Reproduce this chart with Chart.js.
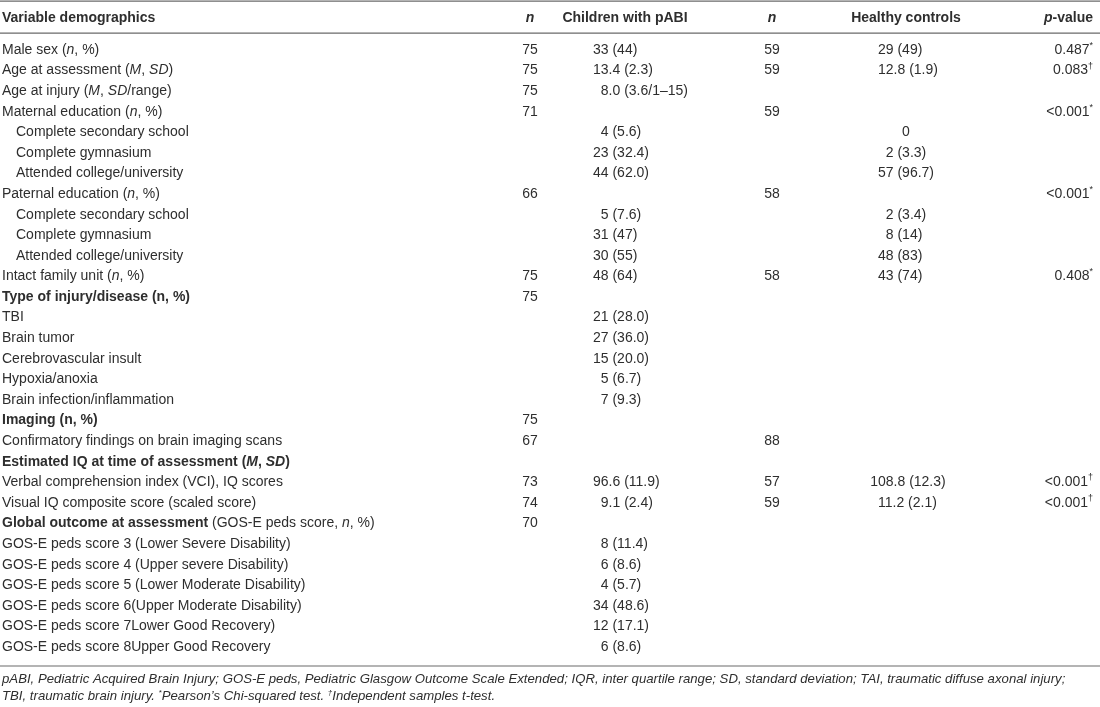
<!DOCTYPE html>
<html>
<head>
<meta charset="utf-8">
<script src="https://cdn.jsdelivr.net/npm/chart.js@4.4.1/dist/chart.umd.min.js"></script>
<style>
  html, body { margin: 0; padding: 0; background: #ffffff; }
  #wrap { width: 1100px; height: 707px; position: relative; }
</style>
</head>
<body>
<div id="wrap"><canvas id="c"></canvas></div>
<script>
// ---- DATA (markup: ~ toggles bold, _ toggles italic, ^ toggles superscript) ----
const headers = ['~Variable demographics~', '~_n_~', '~Children with pABI~', '~_n_~', '~Healthy controls~', '~_p_-value~'];

const rowLabels = [
  'Male sex (_n_, %)',
  'Age at assessment (_M_, _SD_)',
  'Age at injury (_M_, _SD_/range)',
  'Maternal education (_n_, %)',
  'Complete secondary school',
  'Complete gymnasium',
  'Attended college/university',
  'Paternal education (_n_, %)',
  'Complete secondary school',
  'Complete gymnasium',
  'Attended college/university',
  'Intact family unit (_n_, %)',
  '~Type of injury/disease (n, %)~',
  'TBI',
  'Brain tumor',
  'Cerebrovascular insult',
  'Hypoxia/anoxia',
  'Brain infection/inflammation',
  '~Imaging (n, %)~',
  'Confirmatory findings on brain imaging scans',
  '~Estimated IQ at time of assessment (_M_, _SD_)~',
  'Verbal comprehension index (VCI), IQ scores',
  'Visual IQ composite score (scaled score)',
  '~Global outcome at assessment~ (GOS-E peds score, _n_, %)',
  'GOS-E peds score 3 (Lower Severe Disability)',
  'GOS-E peds score 4 (Upper severe Disability)',
  'GOS-E peds score 5 (Lower Moderate Disability)',
  'GOS-E peds score 6(Upper Moderate Disability)',
  'GOS-E peds score 7Lower Good Recovery)',
  'GOS-E peds score 8Upper Good Recovery'
];

const rowIndented = [0,0,0,0,1,1,1,0,1,1,1,0,0,0,0,0,0,0,0,0,0,0,0,0,0,0,0,0,0,0];

const nPabi = ['75','75','75','71','','','','66','','','','75','75','','','','','','75','67','','73','74','70','','','','','',''];

const pabiValues = ['33 (44)','13.4 (2.3)','8.0 (3.6/1–15)','','4 (5.6)','23 (32.4)','44 (62.0)','','5 (7.6)','31 (47)','30 (55)','48 (64)','','21 (28.0)','27 (36.0)','15 (20.0)','5 (6.7)','7 (9.3)','','','','96.6 (11.9)','9.1 (2.4)','','8 (11.4)','6 (8.6)','4 (5.7)','34 (48.6)','12 (17.1)','6 (8.6)'];

const nControls = ['59','59','','59','','','','58','','','','58','','','','','','','','88','','57','59','','','','','','',''];

const controlValues = ['29 (49)','12.8 (1.9)','','','0','2 (3.3)','57 (96.7)','','2 (3.4)','8 (14)','48 (83)','43 (74)','','','','','','','','','','108.8 (12.3)','11.2 (2.1)','','','','','','',''];

const pValues = ['0.487^*^','0.083^†^','','<0.001^*^','','','','<0.001^*^','','','','0.408^*^','','','','','','','','','','<0.001^†^','<0.001^†^','','','','','','',''];

const footnotes = [
  '_pABI, Pediatric Acquired Brain Injury; GOS-E peds, Pediatric Glasgow Outcome Scale Extended; IQR, inter quartile range; SD, standard deviation; TAI, traumatic diffuse axonal injury;_',
  '_TBI, traumatic brain injury. ^*^Pearson\u2019s Chi-squared test. ^†^Independent samples t-test._'
];

// ---- LAYOUT / STYLE ----
const FONT = '"Liberation Sans", Arial, Helvetica, sans-serif';
const TEXT_COLOR = '#2e2e2e';
const RULE_COLOR = '#6a6a6a';
const BODY_SIZE = 14;
const NOTE_SIZE = 13.2;
const cols = { label: 2, indent: 16, n1: 530, pabiAnchor: 593, pabiCenter: 625, n2: 772, ctrlAnchor: 878, ctrlCenter: 906, pRight: 1093 };

function parseMarkup(str) {
  const segs = [];
  let bold = false, ital = false, sup = false, buf = '';
  const push = () => { if (buf) segs.push({ t: buf, b: bold, i: ital, s: sup }); buf = ''; };
  for (const ch of str) {
    if (ch === '~') { push(); bold = !bold; }
    else if (ch === '_') { push(); ital = !ital; }
    else if (ch === '^') { push(); sup = !sup; }
    else buf += ch;
  }
  push();
  return segs;
}

function segFont(seg, size) {
  const sz = seg.s ? Math.round(size * 0.64) : size;
  return (seg.i ? 'italic ' : '') + (seg.b ? 'bold ' : '') + sz + 'px ' + FONT;
}

function measureRich(ctx, str, size) {
  let w = 0;
  for (const seg of parseMarkup(str)) { ctx.font = segFont(seg, size); w += ctx.measureText(seg.t).width; }
  return w;
}

function drawRich(ctx, str, x, y, size, align) {
  const segs = parseMarkup(str);
  const total = measureRich(ctx, str, size);
  let cx = align === 'center' ? x - total / 2 : align === 'right' ? x - total : x;
  ctx.textAlign = 'left';
  ctx.textBaseline = 'middle';
  for (const seg of segs) {
    ctx.font = segFont(seg, size);
    ctx.fillText(seg.t, cx, seg.s ? y - size * 0.32 : y);
    cx += ctx.measureText(seg.t).width;
  }
}

// value cells: left edge set so that the integer part lines up as for two digits
function drawValue(ctx, str, xScale, y, anchor, center) {
  if (!str) return;
  if (str.indexOf('(') < 0) { drawRich(ctx, str, xScale.getPixelForValue(center), y, BODY_SIZE, 'center'); return; }
  ctx.font = BODY_SIZE + 'px ' + FONT;
  const digitW = ctx.measureText('0').width;
  const m = str.match(/^\d+/);
  const nd = m ? m[0].length : 2;
  drawRich(ctx, str, xScale.getPixelForValue(anchor) + (2 - nd) * digitW, y, BODY_SIZE, 'left');
}

const tablePlugin = {
  id: 'tableText',
  afterDraw(chart) {
    const ctx = chart.ctx, ys = chart.scales.y, xs = chart.scales.x, area = chart.chartArea;
    ctx.save();
    ctx.fillStyle = TEXT_COLOR;

    // rules
    ctx.strokeStyle = RULE_COLOR;
    ctx.lineWidth = 1.2;
    const rule = (yy) => { ctx.beginPath(); ctx.moveTo(xs.getPixelForValue(0), yy); ctx.lineTo(xs.getPixelForValue(1100), yy); ctx.stroke(); };
    rule(area.top - 38.5);
    rule(area.top - 6.5);
    rule(area.bottom + 8.7);

    // header
    const hy = area.top - 22;
    drawRich(ctx, headers[0], xs.getPixelForValue(cols.label), hy, BODY_SIZE, 'left');
    drawRich(ctx, headers[1], xs.getPixelForValue(cols.n1), hy, BODY_SIZE, 'center');
    drawRich(ctx, headers[2], xs.getPixelForValue(cols.pabiCenter), hy, BODY_SIZE, 'center');
    drawRich(ctx, headers[3], xs.getPixelForValue(cols.n2), hy, BODY_SIZE, 'center');
    drawRich(ctx, headers[4], xs.getPixelForValue(cols.ctrlCenter), hy, BODY_SIZE, 'center');
    drawRich(ctx, headers[5], xs.getPixelForValue(cols.pRight), hy, BODY_SIZE, 'right');

    // body rows positioned by the category scale
    rowLabels.forEach((lab, i) => {
      const y = ys.getPixelForValue(i);
      drawRich(ctx, lab, xs.getPixelForValue(rowIndented[i] ? cols.indent : cols.label), y, BODY_SIZE, 'left');
      if (nPabi[i]) drawRich(ctx, nPabi[i], xs.getPixelForValue(cols.n1), y, BODY_SIZE, 'center');
      drawValue(ctx, pabiValues[i], xs, y, cols.pabiAnchor, cols.pabiCenter);
      if (nControls[i]) drawRich(ctx, nControls[i], xs.getPixelForValue(cols.n2), y, BODY_SIZE, 'center');
      drawValue(ctx, controlValues[i], xs, y, cols.ctrlAnchor, cols.ctrlCenter);
      if (pValues[i]) drawRich(ctx, pValues[i], xs.getPixelForValue(cols.pRight), y, BODY_SIZE, 'right');
    });

    // footnotes
    drawRich(ctx, footnotes[0], xs.getPixelForValue(cols.label), area.bottom + 21.7, NOTE_SIZE, 'left');
    drawRich(ctx, footnotes[1], xs.getPixelForValue(cols.label), area.bottom + 39.5, NOTE_SIZE, 'left');
    ctx.restore();
  }
};

new Chart(document.getElementById('c'), {
  type: 'bar',
  data: {
    labels: rowLabels,
    datasets: [{ label: 'rows', data: rowLabels.map(() => null), backgroundColor: 'rgba(0,0,0,0)' }]
  },
  options: {
    indexAxis: 'y',
    responsive: true,
    maintainAspectRatio: false,
    animation: false,
    events: [],
    layout: { padding: { top: 39.7, bottom: 49.7, left: 0, right: 0 } },
    scales: {
      y: { type: 'category', display: false, offset: true },
      x: { type: 'linear', min: 0, max: 1100, display: false }
    },
    plugins: { legend: { display: false }, tooltip: { enabled: false }, title: { display: false } }
  },
  plugins: [tablePlugin]
});
</script>
</body>
</html>
